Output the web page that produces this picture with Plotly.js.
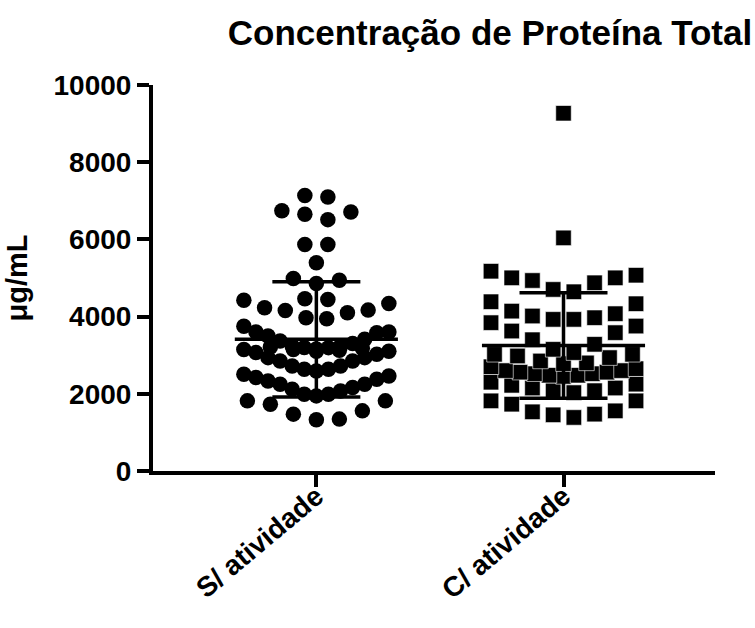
<!DOCTYPE html>
<html><head><meta charset="utf-8">
<script src="https://cdn.plot.ly/plotly-3.0.1.min.js"></script>
<style>html,body{margin:0;padding:0;background:#fff}#chart{width:755px;height:628px}</style>
</head><body><div id="chart"></div>
<script>
// ---- data ----
const categories = ['S/ atividade', 'C/ atividade'];

// values (µg/mL) of each group, listed by horizontal row of the scatter
const semAtividadeRows = [
  [1326, 1344, 1473, 1558, 1731, 1817, 1817],
  [1946, 1990, 1990, 2075, 2119, 2162, 2248, 2248, 2333, 2377, 2420, 2462, 2506],
  [2590, 2636, 2636, 2720, 2720, 2850, 2850, 2937, 2937, 3023, 3067, 3105, 3150],
  [3100, 3130, 3150, 3180, 3210],
  [3160, 3196, 3200, 3238, 3238, 3300, 3367, 3411, 3496, 3584, 3600, 3600, 3750],
  [3946, 3971, 4100, 4160, 4168, 4230, 4341, 4426],
  [4444, 4462],
  [4858, 4943, 4987],
  [5393],
  [5866, 5866],
  [6512, 6649, 6710, 6744],
  [7098, 7140]
];
const comAtividadeRows = [
  [1387, 1455, 1473, 1533, 1558, 1731, 1817, 1817],
  [2030, 2080, 2080, 2150, 2150, 2220, 2250, 2300],
  [2450, 2480, 2480, 2520, 2520, 2560, 2560, 2600, 2600, 2650, 2700],
  [2780, 2800, 2850, 2937, 2980, 3023, 3023],
  [3067, 3152, 3282, 3400, 3584, 3626, 3755, 3842],
  [3928, 3928, 3971, 4015, 4075, 4142, 4333, 4385],
  [4643, 4703, 4876, 4935, 5004, 5004, 5072, 5176],
  [6039],
  [9268]
];
const groupMean = [3410, 3250];
const groupSD = [1490, 1365];
const yTickVals = [0, 2000, 4000, 6000, 8000, 10000];
const yTickText = ['0', '2000', '4000', '6000', '8000', '10000'];

// ---- layout geometry ----
const W = 755, H = 628;
const margin = {l: 153, r: 40, t: 85, b: 157};
const xRange = [-0.661, 1.613];
const pxPerUnit = (W - margin.l - margin.r) / (xRange[1] - xRange[0]);

// spread each row around its category (scatter dot plot arrangement)
function spreadRows(rows, center) {
  const xs = [], ys = [];
  rows.forEach(row => {
    const vals = row.slice().sort((a, b) => a - b);
    const n = vals.length;
    const spacing = n > 1 ? Math.min(23, 145 / (n - 1)) : 0;
    const slots = [];
    if (n % 2 === 1) {
      slots.push(0);
      for (let k = 1; slots.length < n; k++) { slots.push(k); if (slots.length < n) slots.push(-k); }
    } else {
      for (let k = 0; slots.length < n; k++) { slots.push(k + 0.5); if (slots.length < n) slots.push(-(k + 0.5)); }
    }
    vals.forEach((v, i) => { xs.push(center + slots[i] * spacing / pxPerUnit); ys.push(v); });
  });
  return {xs, ys};
}

const g1 = spreadRows(semAtividadeRows, 0);
const g2 = spreadRows(comAtividadeRows, 1);

const meanX = [], meanY = [];
groupMean.forEach((m, i) => { meanX.push(i - 0.33, i + 0.33, null); meanY.push(m, m, null); });

const traces = [
  {type: 'scatter', mode: 'markers', x: g1.xs, y: g1.ys, name: categories[0],
   marker: {symbol: 'circle', size: 15.5, color: '#000'}, cliponaxis: false},
  {type: 'scatter', mode: 'markers', x: g2.xs, y: g2.ys, name: categories[1],
   marker: {symbol: 'square', size: 15.5, color: '#000', line: {color: '#fff', width: 0.6}}, cliponaxis: false},
  {type: 'scatter', mode: 'lines', x: meanX, y: meanY, line: {color: '#000', width: 3.5}, hoverinfo: 'skip'},
  {type: 'scatter', mode: 'markers', x: [0, 1], y: groupMean, marker: {size: 1, opacity: 0},
   error_y: {type: 'data', array: groupSD, visible: true, color: '#000', thickness: 3.5, width: 44}}
];

const font = {family: 'Liberation Sans, Arial, sans-serif', color: '#000'};
const layout = {
  width: W, height: H, margin: margin, showlegend: false,
  paper_bgcolor: '#fff', plot_bgcolor: '#fff',
  font: font,
  title: {text: 'Concentração de Proteína Total', xref: 'container', x: 0.649, xanchor: 'center',
          yref: 'container', y: 0.948, yanchor: 'middle',
          font: {family: font.family, size: 35, weight: 'bold', color: '#000'}},
  xaxis: {range: xRange, tickmode: 'array', tickvals: [0, 1], ticktext: categories, tickangle: -40,
          ticks: 'outside', ticklen: 12, tickwidth: 4, tickcolor: '#000', ticklabelstandoff: -18,
          showline: true, linewidth: 4, linecolor: '#000', showgrid: false, zeroline: false,
          tickfont: {family: font.family, size: 28, weight: 'bold', color: '#000'}},
  yaxis: {range: [0, 10000], tickmode: 'array', tickvals: yTickVals, ticktext: yTickText,
          ticks: 'outside', ticklen: 12, tickwidth: 4, tickcolor: '#000',
          showline: true, linewidth: 4, linecolor: '#000', showgrid: false, zeroline: false,
          tickfont: {family: font.family, size: 28, weight: 'bold', color: '#000'},
          title: {text: 'μg/mL', standoff: 18, font: {family: font.family, size: 29, weight: 'bold', color: '#000'}}}
};

Plotly.newPlot('chart', traces, layout, {staticPlot: true, displayModeBar: false});
</script>
</body></html>
